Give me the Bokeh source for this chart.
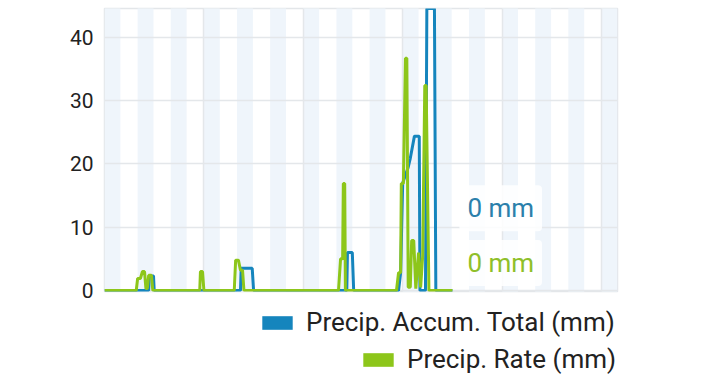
from bokeh.plotting import figure
from bokeh.layouts import column
from bokeh.models import Legend, LegendItem, Label, FixedTicker, Range1d
from bokeh.embed import file_html
from bokeh.resources import INLINE

# ---- data (x in hours from start of window, y in mm) ----
accum_t = [0, 32, 32.5, 35.5, 36, 98.5, 99, 107, 108, 175.5, 176, 179.5, 180.5,
           213, 214.5, 216, 220, 221.5, 224.5, 228, 228.5, 232.5, 233.5, 239, 240, 252]
accum_v = [0, 0, 2.3, 2.3, 0, 0, 3.5, 3.5, 0, 0, 6.0, 6.0, 0,
           0, 2.8, 17.0, 19.5, 20.9, 24.4, 24.4, 0, 0, 44.58, 44.58, 0, 0]

rate_t = [0, 23, 24, 26, 27.5, 29, 30, 31, 32, 34, 35,
          69, 69.5, 71, 72,
          94, 95, 97, 98.5, 100, 101,
          169.5, 171, 172.5, 173, 174, 174.5,
          211.5, 213, 214.5, 215, 216.5, 218, 219, 220, 221.5, 222.5, 224, 225.5,
          227.5, 229, 230.5, 232, 233, 235, 252]
rate_v = [0, 0, 1.9, 1.9, 3.0, 3.0, 0.3, 0.3, 2.4, 2.4, 0,
          0, 3.0, 3.0, 0,
          0, 4.8, 4.8, 3.2, 3.2, 0,
          0, 5.0, 5.0, 16.9, 16.9, 0,
          0, 2.8, 2.8, 16.9, 16.9, 36.7, 36.7, 0.5, 0.5, 7.9, 7.9, 0.3,
          6.0, 0.5, 5.5, 32.4, 32.4, 0, 0]

night_start = [24 * k for k in range(16)]
night_end = [24 * k + 11.5 for k in range(16)]

y_ticks = [0, 10, 20, 30, 40]
x_grid = [72, 144, 216, 288, 360]

series_names = ["Precip. Accum. Total (mm)", "Precip. Rate (mm)"]
current_labels = ["0 mm", "0 mm"]

BLUE = "#1585bd"
GREEN = "#8dc61a"
FONT = "Roboto"

p = figure(width=712, height=303, output_backend="svg", toolbar_location=None,
           x_range=Range1d(0, 371.6), y_range=Range1d(-0.16, 44.58),
           x_axis_location=None,
           min_border_left=104, min_border_right=95, min_border_top=8, min_border_bottom=12)
p.outline_line_color = "#e3e6e9"
p.outline_line_width = 1.5
p.background_fill_color = "white"
p.border_fill_color = "white"

p.quad(left=night_start, right=night_end, bottom=-10, top=100,
       fill_color="#eff5fb", line_color=None, level="image")

p.xgrid.ticker = FixedTicker(ticks=x_grid)
p.ygrid.ticker = FixedTicker(ticks=y_ticks)
for g in (p.xgrid, p.ygrid):
    g.grid_line_color = "#e4e7ea"
    g.grid_line_width = 1.5

ax = p.yaxis[0]
ax.ticker = FixedTicker(ticks=y_ticks)
ax.axis_line_color = None
ax.major_tick_line_color = None
ax.minor_tick_line_color = None
ax.major_tick_out = 0
ax.major_tick_in = 0
ax.major_label_standoff = 11
ax.major_label_text_font = FONT
ax.major_label_text_font_size = "21px"
ax.major_label_text_color = "#222222"

p.line(accum_t, accum_v, line_width=3, color=BLUE)
p.line(rate_t, rate_v, line_width=3, color=GREEN)

for txt, yy, col in [(current_labels[0], 13.0, "#2b80ab"), (current_labels[1], 4.35, "#8fbf2a")]:
    p.add_layout(Label(x=287, y=yy, text=txt, text_align="center", text_baseline="middle",
                       text_font=FONT, text_font_size="26px", text_color=col,
                       background_fill_color="white", background_fill_alpha=0.85,
                       padding=8, border_radius=4))

# ---- legend strip below the chart (its frame is aligned with the chart's frame) ----
lg = figure(width=712, height=73, output_backend="svg", toolbar_location=None,
            x_range=Range1d(0, 1), y_range=Range1d(0, 1),
            x_axis_location=None, y_axis_location=None,
            min_border_left=104, min_border_right=95, min_border_top=0, min_border_bottom=0)
lg.outline_line_color = None
lg.xgrid.visible = False
lg.ygrid.visible = False
lg.background_fill_color = "white"
lg.border_fill_color = "white"

# swatch renderers (kept outside the visible range; used only for legend glyphs)
r_blue = lg.quad(left=[5], right=[6], top=[6], bottom=[5], fill_color=BLUE, line_color=None)
r_green = lg.quad(left=[5], right=[6], top=[6], bottom=[5], fill_color=GREEN, line_color=None)

def make_legend(label, r, loc):
    return Legend(items=[LegendItem(label=label, renderers=[r])], location=loc,
                  glyph_width=38, glyph_height=17, label_standoff=10,
                  label_text_font=FONT, label_text_font_size="26px",
                  label_text_color="#222222", label_height=30,
                  padding=0, margin=0, spacing=0,
                  border_line_color=None, background_fill_alpha=0)

lg.add_layout(make_legend(series_names[0], r_blue, (154, 39)))
lg.add_layout(make_legend(series_names[1], r_green, (255, 2)))

open("out.html", "w").write(file_html(column(p, lg, spacing=0), INLINE))
